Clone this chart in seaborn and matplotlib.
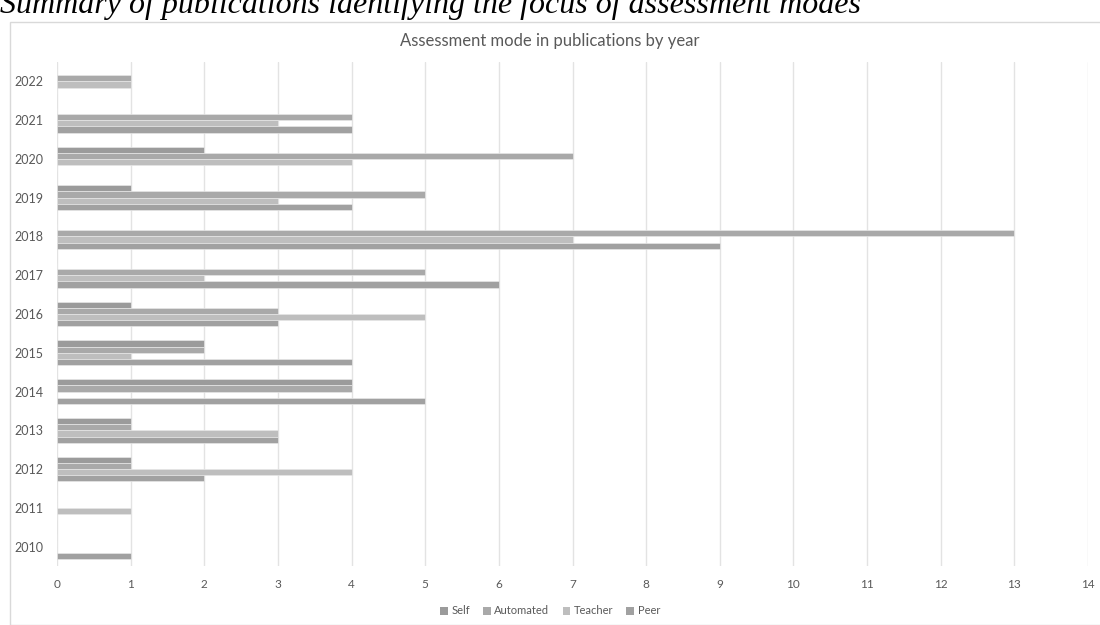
import numpy as np
import pandas as pd
import seaborn as sns
import matplotlib.pyplot as plt
from matplotlib.patches import Rectangle, Patch

years = ["2022", "2021", "2020", "2019", "2018", "2017", "2016",
         "2015", "2014", "2013", "2012", "2011", "2010"]
modes = ["Self", "Automated", "Teacher", "Peer"]
self_v = [0, 0, 2, 1, 0, 0, 1, 2, 4, 1, 1, 0, 0]
automated = [1, 4, 7, 5, 13, 5, 3, 2, 4, 1, 1, 0, 0]
teacher = [1, 3, 4, 3, 7, 2, 5, 1, 0, 3, 4, 1, 0]
peer = [0, 4, 0, 4, 9, 6, 3, 4, 5, 3, 2, 0, 1]
x_ticks = list(range(0, 15))

title = "Assessment mode in publications by year"
caption = "Summary of publications identifying the focus of assessment modes"

colors = ["#9b9b9b", "#a9a9a9", "#bebebe", "#a1a1a1"]

rows = []
for name, vals in zip(modes, [self_v, automated, teacher, peer]):
    for y, v in zip(years, vals):
        rows.append({"Year": y, "Count": v, "Mode": name})
df = pd.DataFrame(rows)

sns.set_theme(style="white")
plt.rcParams['font.family'] = ['Lato', 'DejaVu Sans']

fig = plt.figure(figsize=(11, 6.25), dpi=100)
ax = fig.add_axes([57 / 1100, 1 - 566 / 625, (1088 - 57) / 1100, (566 - 62) / 625])

sns.barplot(data=df, y="Year", x="Count", hue="Mode", order=years,
            hue_order=modes, palette=colors, orient="h", width=0.64,
            errorbar=None, edgecolor="#e6e6e6", linewidth=0.5, ax=ax,
            legend=False, saturation=1)

ax.set_xlim(0, 14)
ax.set_xticks(x_ticks)
ax.set_xticklabels([str(t) for t in x_ticks])
ax.xaxis.grid(True, color="#e3e3e3", linewidth=1)
ax.set_axisbelow(True)
for s in ax.spines.values():
    s.set_visible(False)
ax.set_xlabel("")
ax.set_ylabel("")
ax.tick_params(axis="x", colors="#595959", labelsize=8.5, length=0, pad=9)
ax.tick_params(axis="y", colors="#595959", labelsize=9, length=0, pad=10)

# chart area border
fig.patches.append(Rectangle((10 / 1100, 0), 1.2, 1 - 22 / 625,
                             transform=fig.transFigure, fill=False,
                             edgecolor="#d9d9d9", linewidth=1))

fig.text(0.5, 1 - 41 / 625, title, ha="center", va="center",
         fontsize=12, color="#595959")
fig.text(0.0, 1 - 13 / 625, caption, ha="left", va="baseline",
         fontsize=23, style="italic", family="Liberation Serif", color="black")

handles = [Patch(facecolor=c, edgecolor="none") for c in colors]
fig.legend(handles, modes, loc="center", bbox_to_anchor=(0.5, 1 - 611 / 625),
           ncol=4, frameon=False, fontsize=8, handlelength=0.7,
           handleheight=0.7, handletextpad=0.3, columnspacing=1.2,
           labelcolor="#595959")

fig.savefig("out.png", dpi=100)
